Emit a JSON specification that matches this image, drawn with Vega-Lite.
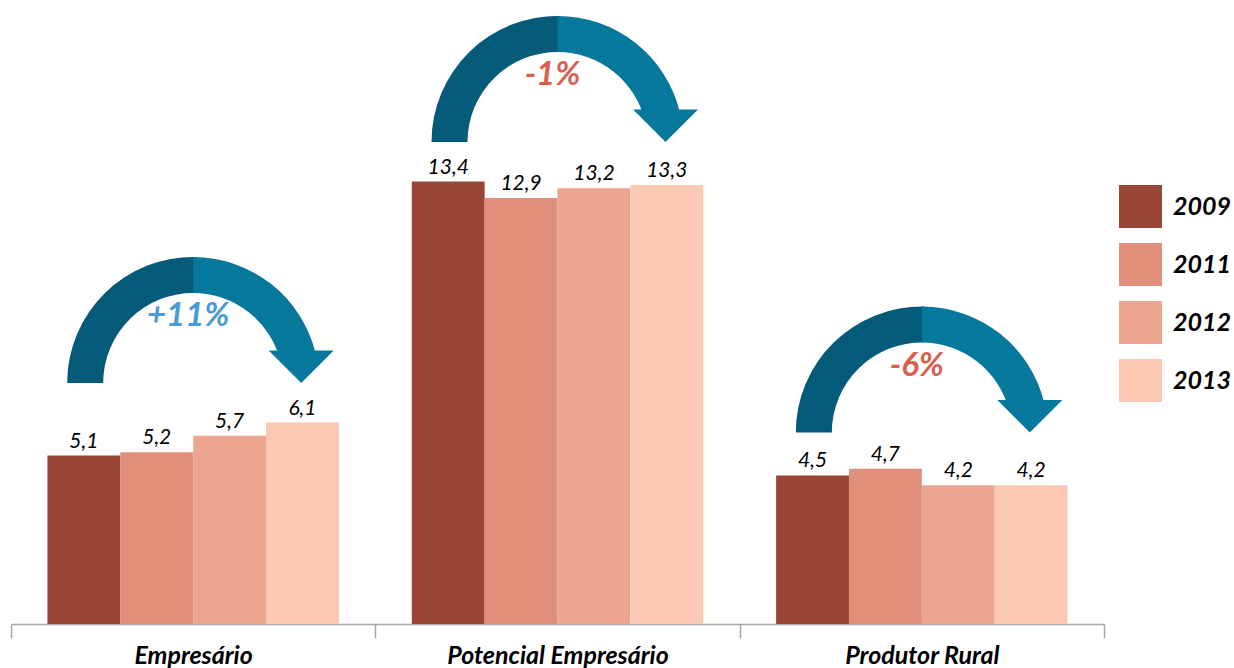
{
  "$schema": "https://vega.github.io/schema/vega-lite/v6.json",
  "width": 1093,
  "height": 624,
  "padding": {"left": 10, "top": 0, "right": 0, "bottom": 0},
  "config": {"view": {"stroke": null}, "font": "Lato"},
  "datasets": {
    "bars": [
      {"cat": "Empresário", "year": "2009", "value": 5.1, "label": "5,1"},
      {"cat": "Empresário", "year": "2011", "value": 5.2, "label": "5,2"},
      {"cat": "Empresário", "year": "2012", "value": 5.7, "label": "5,7"},
      {"cat": "Empresário", "year": "2013", "value": 6.1, "label": "6,1"},
      {"cat": "Potencial Empresário", "year": "2009", "value": 13.4, "label": "13,4"},
      {"cat": "Potencial Empresário", "year": "2011", "value": 12.9, "label": "12,9"},
      {"cat": "Potencial Empresário", "year": "2012", "value": 13.2, "label": "13,2"},
      {"cat": "Potencial Empresário", "year": "2013", "value": 13.3, "label": "13,3"},
      {"cat": "Produtor Rural", "year": "2009", "value": 4.5, "label": "4,5"},
      {"cat": "Produtor Rural", "year": "2011", "value": 4.7, "label": "4,7"},
      {"cat": "Produtor Rural", "year": "2012", "value": 4.2, "label": "4,2"},
      {"cat": "Produtor Rural", "year": "2013", "value": 4.2, "label": "4,2"}
    ],
    "arrows": [
      {"cat": "Empresário", "base": 7.3, "pct": "+11%", "tone": "up"},
      {"cat": "Potencial Empresário", "base": 14.6, "pct": "-1%", "tone": "down"},
      {"cat": "Produtor Rural", "base": 5.8, "pct": "-6%", "tone": "down"}
    ]
  },
  "encoding": {
    "x": {
      "field": "cat",
      "type": "nominal",
      "sort": ["Empresário", "Potencial Empresário", "Produtor Rural"],
      "scale": {"paddingInner": 0, "paddingOuter": 0},
      "axis": {
        "title": null,
        "labelAngle": 0,
        "labelLimit": 0,
        "domainColor": "#a6a6a6",
        "domainWidth": 1.5,
        "tickColor": "#a6a6a6",
        "tickWidth": 1.5,
        "tickSize": 14,
        "tickBand": "extent",
        "labelFont": "Lato",
        "labelFontStyle": "italic",
        "labelFontWeight": "bold",
        "labelFontSize": 25,
        "labelColor": "#000000",
        "labelPadding": 5
      }
    }
  },
  "layer": [
    {
      "data": {"name": "bars"},
      "mark": {"type": "bar"},
      "encoding": {
        "xOffset": {"field": "year", "type": "nominal", "scale": {"paddingInner": 0, "paddingOuter": 0.5}},
        "y": {"field": "value", "type": "quantitative", "scale": {"domain": [0, 18.9], "nice": false}, "axis": null},
        "color": {
          "field": "year",
          "type": "nominal",
          "scale": {"domain": ["2009", "2011", "2012", "2013"], "range": ["#994636", "#df8f7a", "#eca690", "#fac8b3"]},
          "legend": {
            "title": null,
            "orient": "none",
            "legendX": 1108,
            "legendY": 185,
            "padding": 0,
            "symbolType": "square",
            "symbolSize": 1849,
            "symbolStrokeWidth": 0,
            "labelFont": "Lato",
            "labelFontStyle": "italic",
            "labelFontWeight": "bold",
            "labelFontSize": 25,
            "labelColor": "#000000",
            "labelOffset": 11,
            "rowPadding": 15
          }
        }
      }
    },
    {
      "data": {"name": "bars"},
      "mark": {"type": "text", "baseline": "alphabetic", "dy": -8, "font": "Lato", "fontStyle": "italic", "fontSize": 21, "color": "#000000"},
      "encoding": {
        "xOffset": {"field": "year", "type": "nominal"},
        "y": {"field": "value", "type": "quantitative"},
        "text": {"field": "label"}
      }
    },
    {
      "data": {"name": "arrows"},
      "mark": {"type": "arc", "theta": -1.5708, "theta2": 0.02, "innerRadius": 90, "outerRadius": 126, "color": "#035a79"},
      "encoding": {
        "y": {"field": "base", "type": "quantitative"}
      }
    },
    {
      "data": {"name": "arrows"},
      "mark": {"type": "arc", "theta": 0, "theta2": 1.33, "innerRadius": 90, "outerRadius": 126, "color": "#06789b"},
      "encoding": {
        "y": {"field": "base", "type": "quantitative"}
      }
    },
    {
      "data": {"name": "arrows"},
      "mark": {"type": "point", "shape": "M-1,-1L1,-1L0,0Z", "size": 4225, "filled": true, "opacity": 1, "strokeWidth": 0, "xOffset": 108, "color": "#06789b"},
      "encoding": {
        "y": {"field": "base", "type": "quantitative"}
      }
    },
    {
      "data": {"name": "arrows"},
      "mark": {"type": "text", "baseline": "middle", "dy": -67, "dx": -5, "font": "Lato", "fontStyle": "italic", "fontWeight": "bold", "fontSize": 33},
      "encoding": {
        "y": {"field": "base", "type": "quantitative"},
        "text": {"field": "pct"},
        "color": {"condition": {"test": "datum.tone === 'up'", "value": "#4a9ad6"}, "value": "#d9604f"}
      }
    }
  ]
}
